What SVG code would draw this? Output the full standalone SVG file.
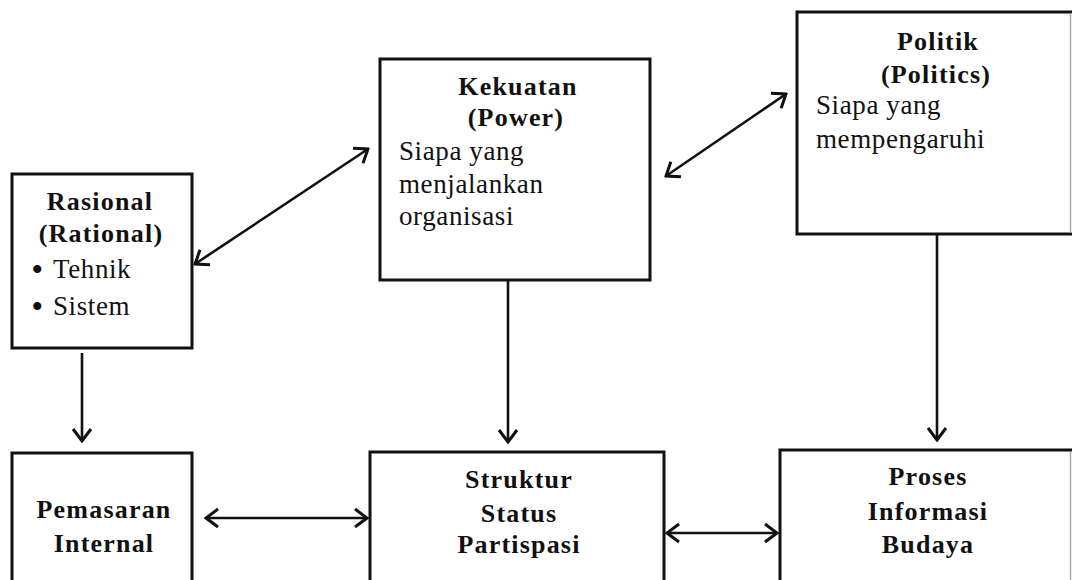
<svg xmlns="http://www.w3.org/2000/svg" width="1072" height="580" viewBox="0 0 1072 580">
<defs>
<style>
.box{fill:#fff;stroke:#111;stroke-width:3}
.hd{font-family:"Liberation Serif","Times New Roman",serif;font-weight:bold;font-size:26px;letter-spacing:1.2px;text-anchor:middle;fill:#111}
.tx{font-family:"Liberation Serif","Times New Roman",serif;font-size:27px;letter-spacing:0.6px;fill:#111}
.bl{font-family:"Liberation Serif","Times New Roman",serif;font-size:30px;font-weight:bold;fill:#111}
.cn{fill:none;stroke:#111;stroke-width:2.6}
</style>
<marker id="ah" viewBox="-15 -12 17 24" refX="0" refY="0" markerWidth="17" markerHeight="24" markerUnits="userSpaceOnUse" orient="auto-start-reverse">
<path d="M-12,-9 L0,0 L-12,9" fill="none" stroke="#111" stroke-width="3"/>
</marker>
</defs>
<rect width="1072" height="580" fill="#fff"/>
<g id="rasional">
<rect class="box" x="12" y="174" width="180" height="174"/>
<text class="hd" x="100" y="210">Rasional</text>
<text class="hd" x="101" y="242">(Rational)</text>
<text class="bl" x="32" y="279">•</text>
<text class="tx" x="53" y="278">Tehnik</text>
<text class="bl" x="32" y="316">•</text>
<text class="tx" x="53" y="315">Sistem</text>
</g>
<g id="kekuatan">
<rect class="box" x="380" y="59" width="270" height="221"/>
<text class="hd" x="518" y="95">Kekuatan</text>
<text class="hd" x="516" y="126">(Power)</text>
<text class="tx" x="399" y="160">Siapa yang</text>
<text class="tx" x="399" y="193">menjalankan</text>
<text class="tx" x="399" y="225">organisasi</text>
</g>
<g id="politik">
<rect class="box" x="797" y="12" width="290" height="222"/>
<line x1="1070.5" y1="13" x2="1070.5" y2="233" stroke="#aaa" stroke-width="1.5"/>
<text class="hd" x="938" y="50">Politik</text>
<text class="hd" x="936" y="83">(Politics)</text>
<text class="tx" x="816" y="114">Siapa yang</text>
<text class="tx" x="816" y="148">mempengaruhi</text>
</g>
<g id="pemasaran">
<rect class="box" x="12" y="453" width="180" height="150"/>
<text class="hd" x="104" y="518">Pemasaran</text>
<text class="hd" x="104" y="552">Internal</text>
</g>
<g id="struktur">
<rect class="box" x="370" y="452" width="294" height="150"/>
<text class="hd" x="519" y="488">Struktur</text>
<text class="hd" x="519" y="522">Status</text>
<text class="hd" x="519" y="553">Partispasi</text>
</g>
<g id="proses">
<rect class="box" x="780" y="450" width="310" height="150"/>
<line x1="1070.5" y1="452" x2="1070.5" y2="580" stroke="#aaa" stroke-width="1.5"/>
<text class="hd" x="928" y="485">Proses</text>
<text class="hd" x="928" y="520">Informasi</text>
<text class="hd" x="928" y="553">Budaya</text>
</g>
<g id="connectors">
<line class="cn" x1="195" y1="264" x2="368" y2="149" marker-start="url(#ah)" marker-end="url(#ah)"/>
<line class="cn" x1="666" y1="176" x2="786" y2="94" marker-start="url(#ah)" marker-end="url(#ah)"/>
<line class="cn" x1="82" y1="353" x2="82" y2="441" marker-end="url(#ah)"/>
<line class="cn" x1="508" y1="281" x2="508" y2="442" marker-end="url(#ah)"/>
<line class="cn" x1="937" y1="235" x2="937" y2="440" marker-end="url(#ah)"/>
<line class="cn" x1="206" y1="518" x2="367" y2="518" marker-start="url(#ah)" marker-end="url(#ah)"/>
<line class="cn" x1="667" y1="533" x2="777" y2="533" marker-start="url(#ah)" marker-end="url(#ah)"/>
</g>
</svg>
